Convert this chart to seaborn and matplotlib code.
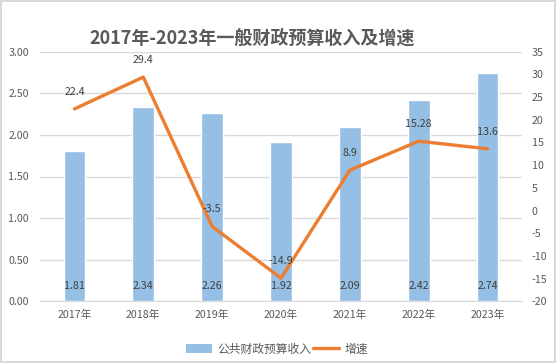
import matplotlib.pyplot as plt
import seaborn as sns
import numpy as np
from matplotlib.patches import Patch
from matplotlib.lines import Line2D

years = ['2017年', '2018年', '2019年', '2020年', '2021年', '2022年', '2023年']
revenue = [1.81, 2.34, 2.26, 1.92, 2.09, 2.42, 2.74]
growth = [22.4, 29.4, -3.5, -14.9, 8.9, 15.28, 13.6]
left_ticks = [0.0, 0.5, 1.0, 1.5, 2.0, 2.5, 3.0]
right_ticks = [-20, -15, -10, -5, 0, 5, 10, 15, 20, 25, 30, 35]

bar_color = '#95BFE5'
line_color = '#ED7D31'
text_color = '#595959'
label_color = '#404040'

sns.set_style("white")
plt.rcParams['font.family'] = ['Noto Sans CJK SC', 'DejaVu Sans']
plt.rcParams['axes.unicode_minus'] = False

fig = plt.figure(figsize=(5.56, 3.63), dpi=100, edgecolor='#D9D9D9', linewidth=1.5)
ax = fig.add_axes([40 / 556, 1 - 301.3 / 363, 482 / 556, 249.6 / 363])

sns.barplot(x=years, y=revenue, ax=ax, color=bar_color, saturation=1, width=0.315)
ax.set_ylim(0, 3)
ax.set_yticks(left_ticks)
ax.set_yticklabels([f"{t:.2f}" for t in left_ticks])
ax.yaxis.grid(True, color='#D9D9D9', linewidth=1)
ax.set_axisbelow(True)
ax.set_xlabel('')
ax.set_ylabel('')
for s in ['top', 'left', 'right']:
    ax.spines[s].set_visible(False)
ax.spines['bottom'].set_color('#D9D9D9')
ax.tick_params(axis='both', length=0, labelsize=7.7, colors=text_color)
ax.tick_params(axis='y', pad=8)
ax.tick_params(axis='x', pad=6)

for i, v in enumerate(revenue):
    ax.annotate(f"{v:.2f}", (i, 0), xytext=(0, 10.8), textcoords='offset points',
                ha='center', va='center', fontsize=7.7, color=label_color)

ax2 = ax.twinx()
sns.lineplot(x=np.arange(len(years)), y=growth, ax=ax2, color=line_color, linewidth=2.4)
ax2.set_ylim(-20, 35)
ax2.set_yticks(right_ticks)
ax2.set_yticklabels([str(t) for t in right_ticks])
ax2.set_xlim(-0.5, len(years) - 0.5)
for s in ['top', 'left', 'right', 'bottom']:
    ax2.spines[s].set_visible(False)
ax2.tick_params(axis='y', length=0, labelsize=7.7, colors=text_color, pad=7)
ax2.set_ylabel('')

for i, v in enumerate(growth):
    ax2.annotate(f"{v:g}", (i, v), xytext=(0, 12.2), textcoords='offset points',
                 ha='center', va='center', fontsize=7.7, color=label_color)

fig.text(252 / 556, 1 - 38 / 363, '2017年-2023年一般财政预算收入及增速',
         ha='center', va='center', fontsize=13, fontweight='bold', color=text_color)

handles = [Patch(facecolor=bar_color, edgecolor='none'),
           Line2D([0], [0], color=line_color, linewidth=2.4)]
fig.legend(handles, ['公共财政预算收入', '增速'], loc='center',
           bbox_to_anchor=(277 / 556, 1 - 349 / 363), ncol=2, frameon=False,
           fontsize=8.5, handlelength=2.2, handleheight=0.7, columnspacing=0.2,
           handletextpad=0.4, labelcolor=text_color)

fig.savefig('out.png', dpi=100, edgecolor=fig.get_edgecolor())
